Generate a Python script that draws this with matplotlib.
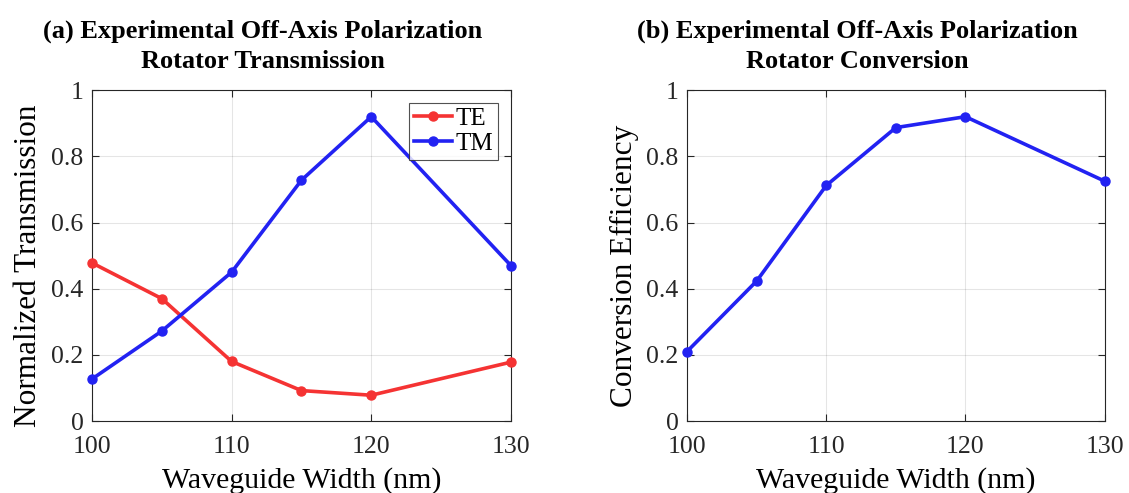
"""
Off-axis polarization rotator: measured transmission (TE/TM) and
TE->TM conversion efficiency versus waveguide width.
"""

import matplotlib
matplotlib.use("Agg")
import matplotlib.pyplot as plt

widths = [100, 105, 110, 115, 120, 130]
te_transmission = [0.478, 0.37, 0.18, 0.092, 0.078, 0.178]
tm_transmission = [0.127, 0.272, 0.45, 0.728, 0.92, 0.47]
conversion_eff = [0.21, 0.423, 0.712, 0.887, 0.92, 0.725]

x_ticks = [100, 110, 120, 130]
y_ticks = [0, 0.2, 0.4, 0.6, 0.8, 1]
y_ticklabels = ["0", "0.2", "0.4", "0.6", "0.8", "1"]

RED = "#f53333"
BLUE = "#2222f2"

plt.rcParams.update({
    "font.family": ["Liberation Serif", "DejaVu Serif"],
    "axes.edgecolor": "#262626",
    "xtick.color": "#262626",
    "ytick.color": "#262626",
    "xtick.labelcolor": "#262626",
    "ytick.labelcolor": "#262626",
})


def _style_axes(ax, ylabel, title, ylabel_x):
    ax.set_xlim(100, 130)
    ax.set_ylim(0, 1)
    ax.set_xticks(x_ticks)
    ax.set_yticks(y_ticks)
    ax.set_yticklabels(y_ticklabels)
    ax.tick_params(direction="in", top=True, right=True, labelsize=18.5,
                   length=5, width=0.8)
    ax.tick_params(axis="x", pad=11)
    ax.tick_params(axis="y", pad=6)
    ax.grid(True, color="#000000", alpha=0.1, linewidth=0.8)
    ax.set_axisbelow(True)
    for s in ax.spines.values():
        s.set_linewidth(0.8)
    ax.set_xlabel("Waveguide Width (nm)", fontsize=21.5, labelpad=6)
    ax.set_ylabel(ylabel, fontsize=22.5)
    ax.yaxis.set_label_coords(ylabel_x, 0.47)
    ax.set_title(title, fontsize=19, fontweight="bold", pad=16,
                 linespacing=1.4, x=0.408)


fig = plt.figure(figsize=(11.29, 4.93), dpi=100)
ax1 = fig.add_axes([0.0815, 0.146, 0.371, 0.671])
ax2 = fig.add_axes([0.6085, 0.146, 0.370, 0.671])

line_kw = dict(linewidth=2.6, marker="o", markersize=6.5, clip_on=False, zorder=3)

ax1.plot(widths, te_transmission, color=RED, label="TE", **line_kw)
ax1.plot(widths, tm_transmission, color=BLUE, label="TM", **line_kw)
_style_axes(ax1, "Normalized Transmission",
            "(a) Experimental Off-Axis Polarization\nRotator Transmission", -0.117)
leg = ax1.legend(loc="upper right", fontsize=18, frameon=True, fancybox=False,
                 edgecolor="#262626", handlelength=1.5, handletextpad=0.15,
                 borderpad=0.2, labelspacing=0.1, borderaxespad=0.5)
leg.get_frame().set_linewidth(0.8)

ax2.plot(widths, conversion_eff, color=BLUE, **line_kw)
_style_axes(ax2, "Conversion Efficiency",
            "(b) Experimental Off-Axis Polarization\nRotator Conversion", -0.115)

fig.savefig("out.png", dpi=100, facecolor="white")
